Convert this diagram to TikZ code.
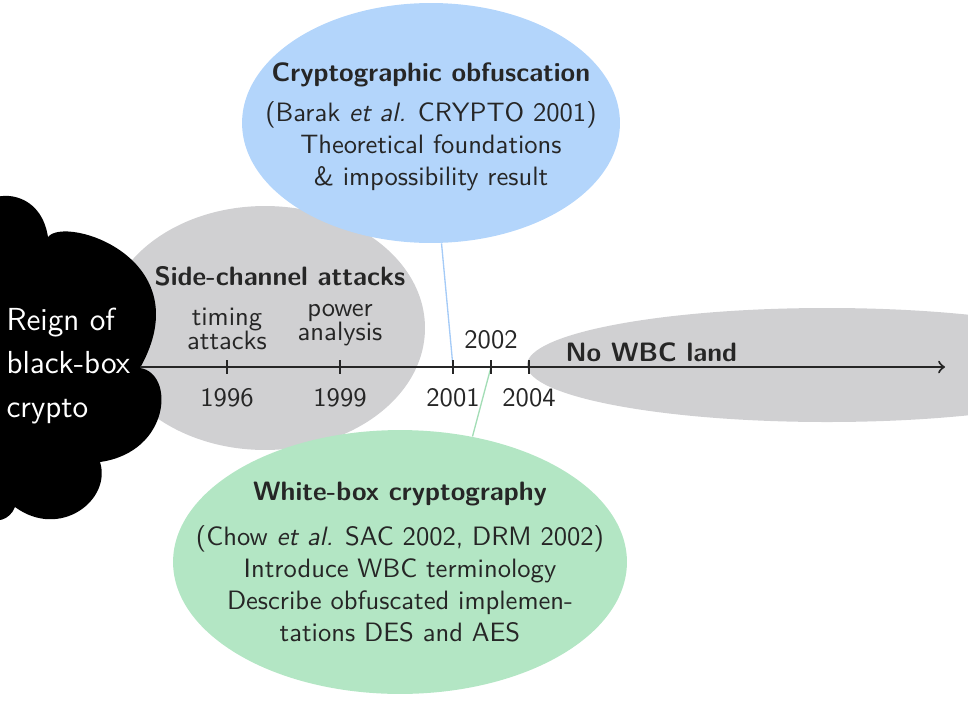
\documentclass[tikz,border=0pt]{standalone}
\usepackage{tikz}
\usetikzlibrary{calc,shapes.geometric}
\definecolor{obfblue}{HTML}{B3D5FB}
\definecolor{obfline}{HTML}{A5CBF7}
\definecolor{wbcgreen}{HTML}{B3E6C4}
\definecolor{wbcline}{HTML}{A3DDB6}
\definecolor{scagray}{HTML}{D0D0D2}
\definecolor{txtgray}{HTML}{262626}

\begin{document}
\begin{tikzpicture}[x=0.3763pt,y=-0.3763pt]
        \tikzstyle{every node}=[text=txtgray,font=\sffamily\fontsize{10}{12}\selectfont,inner sep=0pt]
        \tikzstyle{blob}=[ellipse,inner sep=0pt]
        \tikzstyle{year}=[font=\sffamily\fontsize{10}{9}\selectfont,align=center]
        \tikzstyle{axis}=[line width=0.8pt,draw=txtgray]
        \useasboundingbox (0,0) rectangle (968,726);
        \clip (0,0) rectangle (968,726);

        \node[blob,fill=scagray,minimum width=225.8pt,minimum height=42.9pt] (nowbc) at (827,365) {};
        \node[blob,fill=scagray,minimum width=120.4pt,minimum height=91.8pt] (sca) at (265,328) {};
        \node[blob,fill=obfblue,minimum width=142.2pt,minimum height=90.3pt] (obf) at (431,123) {};
        \node[blob,fill=wbcgreen,minimum width=170.8pt,minimum height=99.3pt] (wbc) at (400,562) {};

        \fill[black] (-40,210) -- (-20,210) .. controls (-15,190) and (40,185) .. (48,237)
            .. controls (65,215) and (202,258) .. (140,368)
            .. controls (175,373) and (171,452) .. (100,462)
            .. controls (112,500) and (60,540) .. (15,507)
            .. controls (10,520) and (-5,525) .. (-15,515) -- (-40,515) -- cycle;
        \node[text=white,font=\sffamily\fontsize{12}{16.5}\selectfont,align=left,anchor=west] (reign) at (6,366) {Reign of\\black-box\\crypto};

        \coordinate (blackbox) at (140,367);
        \coordinate (future) at (945,367);
        \foreach \t/\x in {1996/227,1999/340,2001/453,2002/491,2004/529}
            \coordinate (t\t) at (\x,367);

        \draw[obfline,line width=0.5pt] (obf.-85) to (t2001);
        \draw[wbcline,line width=0.5pt] (wbc.60) to (t2002);

        \draw[axis,->] (blackbox) to (future);
        \foreach \t in {1996,1999,2001,2002,2004}
            \draw[axis] ($(t\t)+(0,-7)$) to ($(t\t)+(0,7)$);

        \node[year] (y1996) at ($(t1996)+(0,31)$) {1996};
        \node[year] (y1999) at ($(t1999)+(0,31)$) {1999};
        \node[year] (y2001) at ($(t2001)+(0,31)$) {2001};
        \node[year] (y2004) at ($(t2004)+(0,31)$) {2004};
        \node[year] (y2002) at ($(t2002)+(0,-27)$) {2002};
        \node[year] (timing) at ($(t1996)+(0,-38)$) {timing\\attacks};
        \node[year] (power) at ($(t1999)+(0,-42)$) {power\\analysis};

        \node (scatext) at (280,276) {\textbf{Side-channel attacks}};
        \node[anchor=west] (nowbctext) at (565,352) {\textbf{No WBC land}};
        \node[align=center] (obftext) at (431,127) {\textbf{Cryptographic obfuscation}\\[3pt]
            (Barak \textit{et al.} CRYPTO 2001)\\ Theoretical foundations\\ \& impossibility result};
        \node[align=center] (wbctext) at (400,562) {\textbf{White-box cryptography}\\[5pt]
            (Chow \textit{et al.} SAC 2002, DRM 2002)\\ Introduce WBC terminology\\
            Describe obfuscated implemen-\\tations DES and AES};
\end{tikzpicture}
\end{document}
